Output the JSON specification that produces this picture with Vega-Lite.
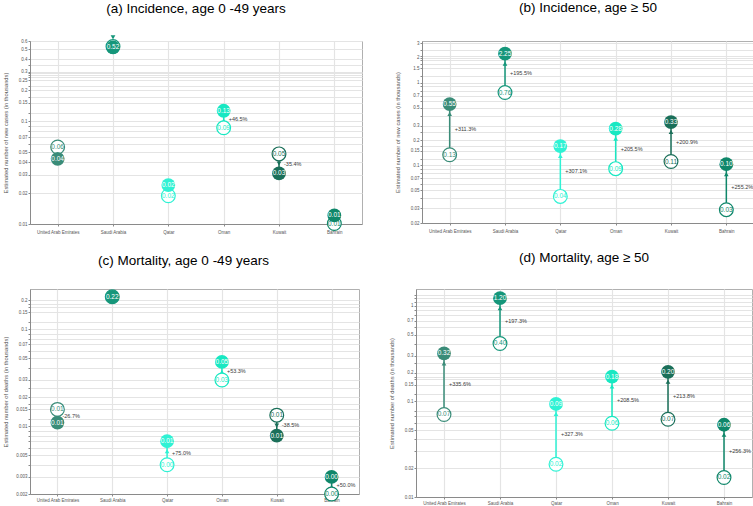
{
  "$schema": "https://vega.github.io/schema/vega-lite/v6.json",
  "background": "white",
  "padding": {"left": 1, "top": 0, "right": 0, "bottom": 0},
  "autosize": {"type": "pad"},
  "config": {
    "view": {"stroke": "#b0b0b0", "strokeWidth": 1},
    "font": "Liberation Sans",
    "title": {"fontSize": 13.5, "font": "Liberation Sans", "fontWeight": "normal", "color": "#000000", "anchor": "middle"},
    "axis": {"zindex": 0, "labelFont": "Liberation Sans", "titleFont": "Liberation Sans", "labelColor": "#555555", "titleColor": "#555555", "titleFontWeight": "normal", "domainColor": "#8a8a8a", "tickColor": "#8a8a8a", "tickSize": 2},
    "legend": {"disable": true}
  },
  "datasets": {
    "a": [
      {"country": "United Arab Emirates", "v2020": 0.056, "v2040": 0.043, "pct": ""},
      {"country": "Saudi Arabia", "v2020": 0.53, "v2040": 0.52, "pct": ""},
      {"country": "Qatar", "v2020": 0.0188, "v2040": 0.0239, "pct": ""},
      {"country": "Oman", "v2020": 0.086, "v2040": 0.126, "pct": "+46.5%"},
      {"country": "Kuwait", "v2020": 0.048, "v2040": 0.031, "pct": "-35.4%"},
      {"country": "Bahrain", "v2020": 0.0101, "v2040": 0.0121, "pct": ""}
    ],
    "b": [
      {"country": "United Arab Emirates", "v2020": 0.134, "v2040": 0.551, "pct": "+311.3%"},
      {"country": "Saudi Arabia", "v2020": 0.761, "v2040": 2.249, "pct": "+195.5%"},
      {"country": "Qatar", "v2020": 0.042, "v2040": 0.171, "pct": "+307.1%"},
      {"country": "Oman", "v2020": 0.091, "v2040": 0.278, "pct": "+205.5%"},
      {"country": "Kuwait", "v2020": 0.111, "v2040": 0.334, "pct": "+200.9%"},
      {"country": "Bahrain", "v2020": 0.029, "v2040": 0.103, "pct": "+255.2%"}
    ],
    "c": [
      {"country": "United Arab Emirates", "v2020": 0.0149, "v2040": 0.0109, "pct": "-26.7%"},
      {"country": "Saudi Arabia", "v2020": 0.216, "v2040": 0.216, "pct": ""},
      {"country": "Qatar", "v2020": 0.004, "v2040": 0.007, "pct": "+75.0%"},
      {"country": "Oman", "v2020": 0.030, "v2040": 0.046, "pct": "+53.3%"},
      {"country": "Kuwait", "v2020": 0.013, "v2040": 0.008, "pct": "-38.5%"},
      {"country": "Bahrain", "v2020": 0.002, "v2040": 0.003, "pct": "+50.0%"}
    ],
    "d": [
      {"country": "United Arab Emirates", "v2020": 0.073, "v2040": 0.318, "pct": "+335.6%"},
      {"country": "Saudi Arabia", "v2020": 0.404, "v2040": 1.201, "pct": "+197.3%"},
      {"country": "Qatar", "v2020": 0.022, "v2040": 0.094, "pct": "+327.3%"},
      {"country": "Oman", "v2020": 0.059, "v2040": 0.182, "pct": "+208.5%"},
      {"country": "Kuwait", "v2020": 0.065, "v2040": 0.204, "pct": "+213.8%"},
      {"country": "Bahrain", "v2020": 0.016, "v2040": 0.057, "pct": "+256.3%"}
    ]
  },
  "spacing": 16,
  "vconcat": [
    {
      "spacing": 30,
      "hconcat": [
        {
          "title": {"text": "(a)  Incidence, age 0 -49 years", "offset": 20},
          "width": 332, "height": 183,
          "data": {"name": "a"},
          "transform": [{"calculate": "sqrt(datum.v2020 * datum.v2040)", "as": "mid"}],
          "encoding": {
            "x": {"field": "country", "type": "nominal", "sort": ["United Arab Emirates", "Saudi Arabia", "Qatar", "Oman", "Kuwait", "Bahrain"], "scale": {"type": "point", "padding": 0.5},
              "axis": {"title": null, "labelAngle": 0, "labelFontSize": 4.5, "labelPadding": 3, "grid": true, "gridColor": "#e4e4e4", "gridWidth": 1.2}},
            "color": {"field": "country", "type": "nominal", "scale": {"domain": ["United Arab Emirates", "Saudi Arabia", "Qatar", "Oman", "Kuwait", "Bahrain"], "range": ["#3a8c78", "#15967a", "#2ff2d4", "#18e8c2", "#1a6f59", "#0f876a"]}}
          },
          "layer": [
            {"mark": {"type": "rule", "strokeWidth": 1.5},
             "encoding": {"y": {"field": "v2020", "type": "quantitative", "title": "Estimated number of new cases (in thousands)",
               "scale": {"type": "log", "domain": [0.01, 0.6], "nice": false},
               "axis": {"values": [0.01,0.02,0.03,0.04,0.05,0.06,0.07,0.08,0.09,0.1,0.12,0.15,0.17,0.2,0.22,0.25,0.27,0.28,0.29,0.3,0.35,0.4,0.5,0.6],
                 "labelExpr": "indexof([0.01,0.02,0.03,0.04,0.05,0.07,0.1,0.15,0.2,0.25,0.3,0.4,0.5,0.6], datum.value) >= 0 ? format(datum.value, '~g') : ''",
                 "grid": true, "gridColor": "#e4e4e4", "labelFontSize": 4.5, "labelPadding": 1, "minExtent": 18, "maxExtent": 18, "titlePadding": 4, "titleFontSize": 5.8}},
               "y2": {"field": "v2040"}}},
            {"mark": {"type": "text", "align": "left", "baseline": "middle", "dx": 5, "fontSize": 5.5},
             "encoding": {"y": {"field": "mid", "type": "quantitative", "title": "Estimated number of new cases (in thousands)"}, "text": {"field": "pct"}, "color": {"value": "#3a3a3a"}}},
            {"transform": [{"filter": "datum.v2040 > datum.v2020"}],
             "mark": {"type": "point", "shape": "triangle-up", "filled": true, "size": 22, "yOffset": 10, "opacity": 1},
             "encoding": {"y": {"field": "v2040", "type": "quantitative", "title": "Estimated number of new cases (in thousands)"}}},
            {"transform": [{"filter": "datum.v2040 < datum.v2020"}],
             "mark": {"type": "point", "shape": "triangle-down", "filled": true, "size": 22, "yOffset": -10, "opacity": 1},
             "encoding": {"y": {"field": "v2040", "type": "quantitative", "title": "Estimated number of new cases (in thousands)"}}},
            {"mark": {"type": "point", "shape": "circle", "filled": false, "fill": "white", "fillOpacity": 1, "size": 190, "strokeWidth": 1.2, "opacity": 1},
             "encoding": {"y": {"field": "v2020", "type": "quantitative", "title": "Estimated number of new cases (in thousands)"}, "stroke": {"field": "country", "type": "nominal", "scale": {"domain": ["United Arab Emirates", "Saudi Arabia", "Qatar", "Oman", "Kuwait", "Bahrain"], "range": ["#3a8c78", "#15967a", "#2ff2d4", "#18e8c2", "#1a6f59", "#0f876a"]}}}},
            {"mark": {"type": "text", "fontSize": 6.5, "baseline": "middle"},
             "encoding": {"y": {"field": "v2020", "type": "quantitative", "title": "Estimated number of new cases (in thousands)"}, "text": {"field": "v2020", "type": "quantitative", "format": ".2f"}}},
            {"mark": {"type": "point", "shape": "circle", "filled": true, "size": 190, "opacity": 1},
             "encoding": {"y": {"field": "v2040", "type": "quantitative", "title": "Estimated number of new cases (in thousands)"}}},
            {"mark": {"type": "text", "fontSize": 6.5, "baseline": "middle"},
             "encoding": {"y": {"field": "v2040", "type": "quantitative", "title": "Estimated number of new cases (in thousands)"}, "text": {"field": "v2040", "type": "quantitative", "format": ".2f"}, "color": {"value": "white"}}}
          ]
        },
        {
          "title": {"text": "(b)  Incidence, age ≥ 50", "offset": 26},
          "width": 332, "height": 182,
          "data": {"name": "b"},
          "transform": [{"calculate": "sqrt(datum.v2020 * datum.v2040)", "as": "mid"}],
          "encoding": {
            "x": {"field": "country", "type": "nominal", "sort": ["United Arab Emirates", "Saudi Arabia", "Qatar", "Oman", "Kuwait", "Bahrain"], "scale": {"type": "point", "padding": 0.5},
              "axis": {"title": null, "labelAngle": 0, "labelFontSize": 4.5, "labelPadding": 3, "grid": true, "gridColor": "#e4e4e4", "gridWidth": 1.2}},
            "color": {"field": "country", "type": "nominal", "scale": {"domain": ["United Arab Emirates", "Saudi Arabia", "Qatar", "Oman", "Kuwait", "Bahrain"], "range": ["#3a8c78", "#15967a", "#2ff2d4", "#18e8c2", "#1a6f59", "#0f876a"]}}
          },
          "layer": [
            {"mark": {"type": "rule", "strokeWidth": 1.5},
             "encoding": {"y": {"field": "v2020", "type": "quantitative", "title": "Estimated number of new cases (in thousands)",
               "scale": {"type": "log", "domain": [0.02, 3.2], "nice": false},
               "axis": {"values": [0.02,0.03,0.04,0.05,0.06,0.07,0.08,0.09,0.1,0.12,0.15,0.17,0.2,0.25,0.3,0.4,0.5,0.6,0.7,0.8,0.9,1,1.2,1.5,1.7,1.9,2,2.1,2.5,3],
                 "labelExpr": "indexof([0.02,0.03,0.05,0.07,0.1,0.15,0.2,0.3,0.5,0.7,1,1.5,2,3], datum.value) >= 0 ? format(datum.value, '~g') : ''",
                 "grid": true, "gridColor": "#e4e4e4", "labelFontSize": 4.5, "labelPadding": 1, "minExtent": 18, "maxExtent": 18, "titlePadding": 4, "titleFontSize": 5.8}},
               "y2": {"field": "v2040"}}},
            {"mark": {"type": "text", "align": "left", "baseline": "middle", "dx": 5, "fontSize": 5.5},
             "encoding": {"y": {"field": "mid", "type": "quantitative", "title": "Estimated number of new cases (in thousands)"}, "text": {"field": "pct"}, "color": {"value": "#3a3a3a"}}},
            {"transform": [{"filter": "datum.v2040 > datum.v2020"}],
             "mark": {"type": "point", "shape": "triangle-up", "filled": true, "size": 22, "yOffset": 10, "opacity": 1},
             "encoding": {"y": {"field": "v2040", "type": "quantitative", "title": "Estimated number of new cases (in thousands)"}}},
            {"transform": [{"filter": "datum.v2040 < datum.v2020"}],
             "mark": {"type": "point", "shape": "triangle-down", "filled": true, "size": 22, "yOffset": -10, "opacity": 1},
             "encoding": {"y": {"field": "v2040", "type": "quantitative", "title": "Estimated number of new cases (in thousands)"}}},
            {"mark": {"type": "point", "shape": "circle", "filled": false, "fill": "white", "fillOpacity": 1, "size": 190, "strokeWidth": 1.2, "opacity": 1},
             "encoding": {"y": {"field": "v2020", "type": "quantitative", "title": "Estimated number of new cases (in thousands)"}, "stroke": {"field": "country", "type": "nominal", "scale": {"domain": ["United Arab Emirates", "Saudi Arabia", "Qatar", "Oman", "Kuwait", "Bahrain"], "range": ["#3a8c78", "#15967a", "#2ff2d4", "#18e8c2", "#1a6f59", "#0f876a"]}}}},
            {"mark": {"type": "text", "fontSize": 6.5, "baseline": "middle"},
             "encoding": {"y": {"field": "v2020", "type": "quantitative", "title": "Estimated number of new cases (in thousands)"}, "text": {"field": "v2020", "type": "quantitative", "format": ".2f"}}},
            {"mark": {"type": "point", "shape": "circle", "filled": true, "size": 190, "opacity": 1},
             "encoding": {"y": {"field": "v2040", "type": "quantitative", "title": "Estimated number of new cases (in thousands)"}}},
            {"mark": {"type": "text", "fontSize": 6.5, "baseline": "middle"},
             "encoding": {"y": {"field": "v2040", "type": "quantitative", "title": "Estimated number of new cases (in thousands)"}, "text": {"field": "v2040", "type": "quantitative", "format": ".2f"}, "color": {"value": "white"}}}
          ]
        }
      ]
    },
    {
      "spacing": 27,
      "hconcat": [
        {
          "title": {"text": "(c)  Mortality, age 0 -49 years", "offset": 20, "dx": -11},
          "width": 329, "height": 205,
          "data": {"name": "c"},
          "transform": [{"calculate": "sqrt(datum.v2020 * datum.v2040)", "as": "mid"}],
          "encoding": {
            "x": {"field": "country", "type": "nominal", "sort": ["United Arab Emirates", "Saudi Arabia", "Qatar", "Oman", "Kuwait", "Bahrain"], "scale": {"type": "point", "padding": 0.5},
              "axis": {"title": null, "labelAngle": 0, "labelFontSize": 4.5, "labelPadding": 1.5, "grid": true, "gridColor": "#e4e4e4", "gridWidth": 1.2}},
            "color": {"field": "country", "type": "nominal", "scale": {"domain": ["United Arab Emirates", "Saudi Arabia", "Qatar", "Oman", "Kuwait", "Bahrain"], "range": ["#3a8c78", "#15967a", "#2ff2d4", "#18e8c2", "#1a6f59", "#0f876a"]}}
          },
          "layer": [
            {"mark": {"type": "rule", "strokeWidth": 1.5},
             "encoding": {"y": {"field": "v2020", "type": "quantitative", "title": "Estimated number of deaths (in thousands)",
               "scale": {"type": "log", "domain": [0.002, 0.26], "nice": false},
               "axis": {"values": [0.002,0.003,0.004,0.005,0.006,0.007,0.008,0.009,0.01,0.012,0.015,0.017,0.02,0.025,0.03,0.04,0.05,0.06,0.07,0.08,0.09,0.1,0.12,0.15,0.17,0.18,0.2],
                 "labelExpr": "indexof([0.002,0.003,0.005,0.01,0.015,0.02,0.03,0.05,0.07,0.1,0.15,0.2], datum.value) >= 0 ? format(datum.value, '~g') : ''",
                 "grid": true, "gridColor": "#e4e4e4", "labelFontSize": 4.5, "labelPadding": 1, "minExtent": 18, "maxExtent": 18, "titlePadding": 4, "titleFontSize": 5.8}},
               "y2": {"field": "v2040"}}},
            {"mark": {"type": "text", "align": "left", "baseline": "middle", "dx": 5, "fontSize": 5.5},
             "encoding": {"y": {"field": "mid", "type": "quantitative", "title": "Estimated number of deaths (in thousands)"}, "text": {"field": "pct"}, "color": {"value": "#3a3a3a"}}},
            {"transform": [{"filter": "datum.v2040 > datum.v2020"}],
             "mark": {"type": "point", "shape": "triangle-up", "filled": true, "size": 22, "yOffset": 10, "opacity": 1},
             "encoding": {"y": {"field": "v2040", "type": "quantitative", "title": "Estimated number of deaths (in thousands)"}}},
            {"transform": [{"filter": "datum.v2040 < datum.v2020"}],
             "mark": {"type": "point", "shape": "triangle-down", "filled": true, "size": 22, "yOffset": -10, "opacity": 1},
             "encoding": {"y": {"field": "v2040", "type": "quantitative", "title": "Estimated number of deaths (in thousands)"}}},
            {"mark": {"type": "point", "shape": "circle", "filled": false, "fill": "white", "fillOpacity": 1, "size": 190, "strokeWidth": 1.2, "opacity": 1},
             "encoding": {"y": {"field": "v2020", "type": "quantitative", "title": "Estimated number of deaths (in thousands)"}, "stroke": {"field": "country", "type": "nominal", "scale": {"domain": ["United Arab Emirates", "Saudi Arabia", "Qatar", "Oman", "Kuwait", "Bahrain"], "range": ["#3a8c78", "#15967a", "#2ff2d4", "#18e8c2", "#1a6f59", "#0f876a"]}}}},
            {"mark": {"type": "text", "fontSize": 6.5, "baseline": "middle"},
             "encoding": {"y": {"field": "v2020", "type": "quantitative", "title": "Estimated number of deaths (in thousands)"}, "text": {"field": "v2020", "type": "quantitative", "format": ".2f"}}},
            {"mark": {"type": "point", "shape": "circle", "filled": true, "size": 190, "opacity": 1},
             "encoding": {"y": {"field": "v2040", "type": "quantitative", "title": "Estimated number of deaths (in thousands)"}}},
            {"mark": {"type": "text", "fontSize": 6.5, "baseline": "middle"},
             "encoding": {"y": {"field": "v2040", "type": "quantitative", "title": "Estimated number of deaths (in thousands)"}, "text": {"field": "v2040", "type": "quantitative", "format": ".2f"}, "color": {"value": "white"}}}
          ]
        },
        {
          "title": {"text": "(d)  Mortality, age ≥ 50", "offset": 25},
          "width": 336, "height": 208,
          "data": {"name": "d"},
          "transform": [{"calculate": "sqrt(datum.v2020 * datum.v2040)", "as": "mid"}],
          "encoding": {
            "x": {"field": "country", "type": "nominal", "sort": ["United Arab Emirates", "Saudi Arabia", "Qatar", "Oman", "Kuwait", "Bahrain"], "scale": {"type": "point", "padding": 0.5},
              "axis": {"title": null, "labelAngle": 0, "labelFontSize": 4.5, "labelPadding": 1.5, "grid": true, "gridColor": "#e4e4e4", "gridWidth": 1.2}},
            "color": {"field": "country", "type": "nominal", "scale": {"domain": ["United Arab Emirates", "Saudi Arabia", "Qatar", "Oman", "Kuwait", "Bahrain"], "range": ["#3a8c78", "#15967a", "#2ff2d4", "#18e8c2", "#1a6f59", "#0f876a"]}}
          },
          "layer": [
            {"mark": {"type": "rule", "strokeWidth": 1.5},
             "encoding": {"y": {"field": "v2020", "type": "quantitative", "title": "Estimated number of deaths (in thousands)",
               "scale": {"type": "log", "domain": [0.01, 1.5], "nice": false},
               "axis": {"values": [0.01,0.02,0.03,0.04,0.05,0.06,0.07,0.08,0.1,0.12,0.15,0.17,0.18,0.2,0.25,0.3,0.4,0.5,0.6,0.7,0.8,0.9,1,1.1,1.2,1.3],
                 "labelExpr": "indexof([0.01,0.02,0.05,0.1,0.15,0.2,0.3,0.5,0.7,1], datum.value) >= 0 ? format(datum.value, '~g') : ''",
                 "grid": true, "gridColor": "#e4e4e4", "labelFontSize": 4.5, "labelPadding": 1, "minExtent": 18, "maxExtent": 18, "titlePadding": 4, "titleFontSize": 5.8}},
               "y2": {"field": "v2040"}}},
            {"mark": {"type": "text", "align": "left", "baseline": "middle", "dx": 5, "fontSize": 5.5},
             "encoding": {"y": {"field": "mid", "type": "quantitative", "title": "Estimated number of deaths (in thousands)"}, "text": {"field": "pct"}, "color": {"value": "#3a3a3a"}}},
            {"transform": [{"filter": "datum.v2040 > datum.v2020"}],
             "mark": {"type": "point", "shape": "triangle-up", "filled": true, "size": 22, "yOffset": 10, "opacity": 1},
             "encoding": {"y": {"field": "v2040", "type": "quantitative", "title": "Estimated number of deaths (in thousands)"}}},
            {"transform": [{"filter": "datum.v2040 < datum.v2020"}],
             "mark": {"type": "point", "shape": "triangle-down", "filled": true, "size": 22, "yOffset": -10, "opacity": 1},
             "encoding": {"y": {"field": "v2040", "type": "quantitative", "title": "Estimated number of deaths (in thousands)"}}},
            {"mark": {"type": "point", "shape": "circle", "filled": false, "fill": "white", "fillOpacity": 1, "size": 190, "strokeWidth": 1.2, "opacity": 1},
             "encoding": {"y": {"field": "v2020", "type": "quantitative", "title": "Estimated number of deaths (in thousands)"}, "stroke": {"field": "country", "type": "nominal", "scale": {"domain": ["United Arab Emirates", "Saudi Arabia", "Qatar", "Oman", "Kuwait", "Bahrain"], "range": ["#3a8c78", "#15967a", "#2ff2d4", "#18e8c2", "#1a6f59", "#0f876a"]}}}},
            {"mark": {"type": "text", "fontSize": 6.5, "baseline": "middle"},
             "encoding": {"y": {"field": "v2020", "type": "quantitative", "title": "Estimated number of deaths (in thousands)"}, "text": {"field": "v2020", "type": "quantitative", "format": ".2f"}}},
            {"mark": {"type": "point", "shape": "circle", "filled": true, "size": 190, "opacity": 1},
             "encoding": {"y": {"field": "v2040", "type": "quantitative", "title": "Estimated number of deaths (in thousands)"}}},
            {"mark": {"type": "text", "fontSize": 6.5, "baseline": "middle"},
             "encoding": {"y": {"field": "v2040", "type": "quantitative", "title": "Estimated number of deaths (in thousands)"}, "text": {"field": "v2040", "type": "quantitative", "format": ".2f"}, "color": {"value": "white"}}}
          ]
        }
      ]
    }
  ]
}
